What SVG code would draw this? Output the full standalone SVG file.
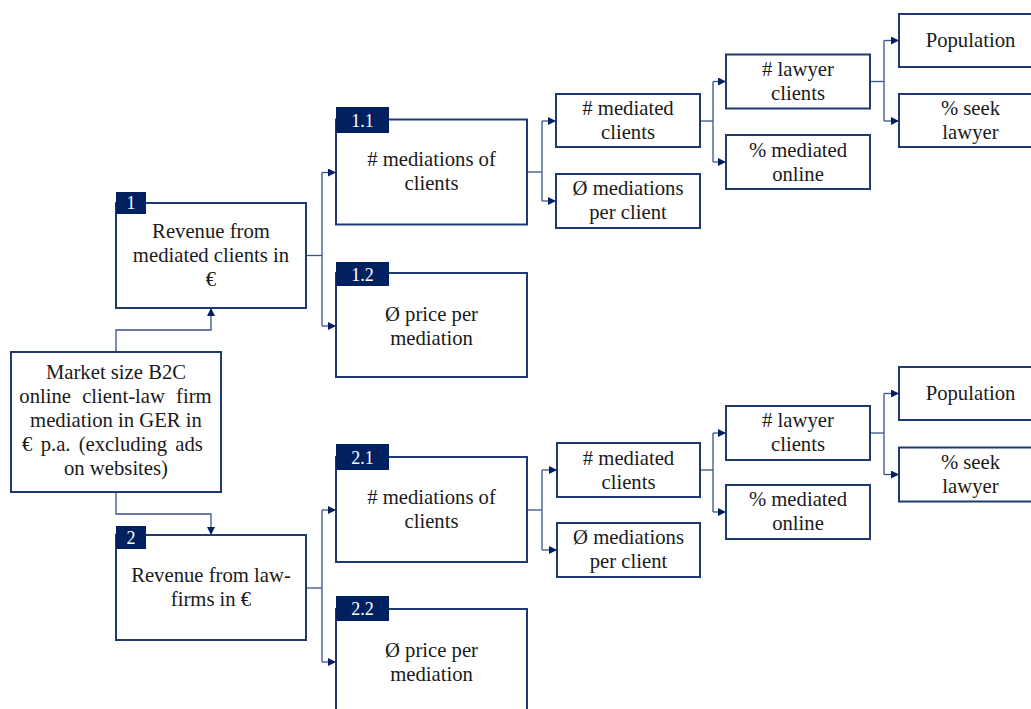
<svg xmlns="http://www.w3.org/2000/svg" width="1031" height="709" viewBox="0 0 1031 709">
<defs>
<style>
.box{fill:#ffffff;stroke:#1f3a73;stroke-width:2}
.tag{fill:#002060;stroke:none}
.t{font-family:'Liberation Serif','Times New Roman','DejaVu Serif',serif;font-size:20.7px;fill:#1a1a1a;text-anchor:middle}
.tn{font-family:'Liberation Serif','Times New Roman','DejaVu Serif',serif;font-size:18px;fill:#ffffff;text-anchor:middle}
.c{fill:none;stroke:#3a5189;stroke-width:1.3}
</style>
<marker id="arr" viewBox="0 0 10 10" refX="10" refY="5" markerWidth="9" markerHeight="8" markerUnits="userSpaceOnUse" orient="auto">
<path d="M0,0 L10,5 L0,10 z" fill="#002060"/>
</marker>
</defs>
<rect width="1031" height="709" fill="#ffffff"/>

<g id="connectors">
<path class="c" d="M116,352 V330 H211 V308" marker-end="url(#arr)"/>
<path class="c" d="M116,492 V514 H211 V535" marker-end="url(#arr)"/>
<path class="c" d="M306,255.5 H322"/>
<path class="c" d="M322,172.5 V326"/>
<path class="c" d="M322,172.5 H336" marker-end="url(#arr)"/>
<path class="c" d="M322,326 H336" marker-end="url(#arr)"/>
<path class="c" d="M306,588 H322"/>
<path class="c" d="M322,510 V662"/>
<path class="c" d="M322,510 H336" marker-end="url(#arr)"/>
<path class="c" d="M322,662 H336" marker-end="url(#arr)"/>
<path class="c" d="M527,172 H542"/>
<path class="c" d="M542,121 V201"/>
<path class="c" d="M542,121 H556" marker-end="url(#arr)"/>
<path class="c" d="M542,201 H556" marker-end="url(#arr)"/>
<path class="c" d="M700,121 H713"/>
<path class="c" d="M713,81.5 V162"/>
<path class="c" d="M713,81.5 H726" marker-end="url(#arr)"/>
<path class="c" d="M713,162 H726" marker-end="url(#arr)"/>
<path class="c" d="M870,81.5 H884"/>
<path class="c" d="M884,40.5 V121"/>
<path class="c" d="M884,40.5 H899" marker-end="url(#arr)"/>
<path class="c" d="M884,121 H899" marker-end="url(#arr)"/>
<path class="c" d="M527,510 H542"/>
<path class="c" d="M542,470 V550"/>
<path class="c" d="M542,470 H557" marker-end="url(#arr)"/>
<path class="c" d="M542,550 H557" marker-end="url(#arr)"/>
<path class="c" d="M700,470 H713"/>
<path class="c" d="M713,433 V512"/>
<path class="c" d="M713,433 H726" marker-end="url(#arr)"/>
<path class="c" d="M713,512 H726" marker-end="url(#arr)"/>
<path class="c" d="M870,433 H884"/>
<path class="c" d="M884,393.5 V474.5"/>
<path class="c" d="M884,393.5 H899" marker-end="url(#arr)"/>
<path class="c" d="M884,474.5 H899" marker-end="url(#arr)"/>
</g>

<g id="root">
<rect class="box" x="11" y="352" width="210" height="140"/>
<text class="t" x="116" y="379">Market size B2C</text>
<text class="t" x="115.5" y="403" word-spacing="6">online client-law firm</text>
<text class="t" x="116" y="427">mediation in GER in</text>
<text class="t" x="112.5" y="451" word-spacing="3">€ p.a. (excluding ads</text>
<text class="t" x="116" y="475">on websites)</text>
</g>

<g id="n1">
<rect class="box" x="116" y="203" width="190" height="105"/>
<rect class="tag" x="116" y="192" width="30" height="22"/>
<text class="tn" x="131" y="209">1</text>
<text class="t" x="211" y="238">Revenue from</text>
<text class="t" x="211" y="262">mediated clients in</text>
<text class="t" x="211" y="286">€</text>
</g>

<g id="n2">
<rect class="box" x="116" y="535" width="190" height="105"/>
<rect class="tag" x="116" y="526" width="30" height="23"/>
<text class="tn" x="131" y="544">2</text>
<text class="t" x="211" y="582">Revenue from law-</text>
<text class="t" x="211" y="606">firms in €</text>
</g>

<g id="n11">
<rect class="box" x="336" y="119.5" width="191" height="105"/>
<rect class="tag" x="336" y="107" width="53" height="26"/>
<text class="tn" x="362.5" y="127">1.1</text>
<text class="t" x="431.5" y="166">#&#160;mediations of</text>
<text class="t" x="431.5" y="190">clients</text>
</g>

<g id="n12">
<rect class="box" x="336" y="273" width="191" height="104"/>
<rect class="tag" x="336" y="262" width="53" height="24"/>
<text class="tn" x="362.5" y="281">1.2</text>
<text class="t" x="431.5" y="321">Ø price per</text>
<text class="t" x="431.5" y="345">mediation</text>
</g>

<g id="n21">
<rect class="box" x="336" y="457" width="191" height="105"/>
<rect class="tag" x="336" y="444" width="53" height="26"/>
<text class="tn" x="362.5" y="464">2.1</text>
<text class="t" x="431.5" y="504">#&#160;mediations of</text>
<text class="t" x="431.5" y="528">clients</text>
</g>

<g id="n22">
<rect class="box" x="336" y="609" width="191" height="110"/>
<rect class="tag" x="336" y="596" width="53" height="25"/>
<text class="tn" x="362.5" y="615">2.2</text>
<text class="t" x="431.5" y="657">Ø price per</text>
<text class="t" x="431.5" y="681">mediation</text>
</g>

<g id="n111">
<rect class="box" x="556" y="94" width="144" height="53"/>
<text class="t" x="628" y="115">#&#160;mediated</text>
<text class="t" x="628" y="139">clients</text>
</g>
<g id="n112">
<rect class="box" x="556" y="174" width="144" height="54"/>
<text class="t" x="628" y="195">Ø mediations</text>
<text class="t" x="628" y="219">per client</text>
</g>
<g id="n1111">
<rect class="box" x="726" y="54.5" width="144" height="54"/>
<text class="t" x="798" y="76">#&#160;lawyer</text>
<text class="t" x="798" y="100">clients</text>
</g>
<g id="n1112">
<rect class="box" x="726" y="135" width="144" height="54"/>
<text class="t" x="798" y="157">% mediated</text>
<text class="t" x="798" y="181">online</text>
</g>
<g id="n11111">
<rect class="box" x="899" y="14" width="145" height="53"/>
<text class="t" x="970.5" y="47">Population</text>
</g>
<g id="n11112">
<rect class="box" x="899" y="94" width="145" height="53"/>
<text class="t" x="970.5" y="115">% seek</text>
<text class="t" x="970.5" y="139">lawyer</text>
</g>

<g id="n211">
<rect class="box" x="557" y="443" width="143" height="54"/>
<text class="t" x="628.5" y="465">#&#160;mediated</text>
<text class="t" x="628.5" y="489">clients</text>
</g>
<g id="n212">
<rect class="box" x="557" y="523" width="143" height="54"/>
<text class="t" x="628.5" y="544">Ø mediations</text>
<text class="t" x="628.5" y="568">per client</text>
</g>
<g id="n2111">
<rect class="box" x="726" y="406" width="144" height="54"/>
<text class="t" x="798" y="427">#&#160;lawyer</text>
<text class="t" x="798" y="451">clients</text>
</g>
<g id="n2112">
<rect class="box" x="726" y="485" width="144" height="54"/>
<text class="t" x="798" y="506">% mediated</text>
<text class="t" x="798" y="530">online</text>
</g>
<g id="n21111">
<rect class="box" x="899" y="367" width="145" height="53"/>
<text class="t" x="970.5" y="400">Population</text>
</g>
<g id="n21112">
<rect class="box" x="899" y="447.5" width="145" height="54"/>
<text class="t" x="970.5" y="469">% seek</text>
<text class="t" x="970.5" y="493">lawyer</text>
</g>
</svg>
